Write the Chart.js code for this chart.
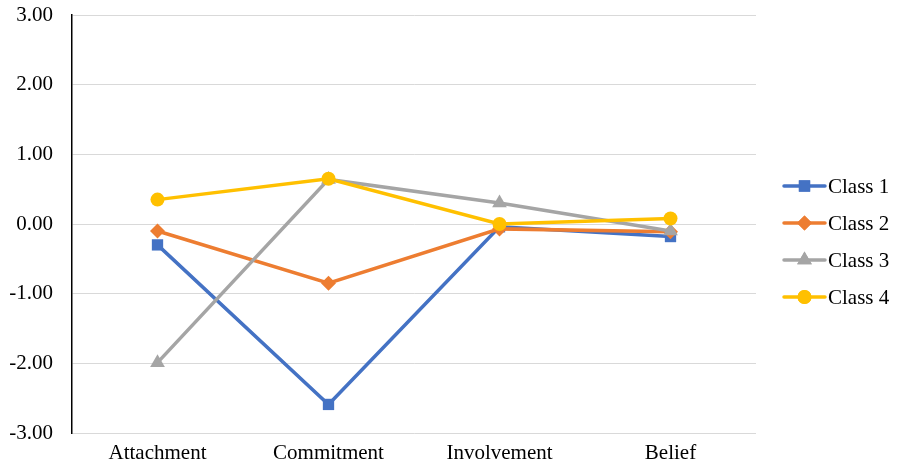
<!DOCTYPE html>
<html>
<head>
<meta charset="utf-8">
<script src="https://cdn.jsdelivr.net/npm/chart.js@4"></script>
<style>
  html, body { margin: 0; padding: 0; background: #fff; }
  #wrap { width: 897px; height: 466px; }
</style>
</head>
<body>
<div id="wrap"><canvas id="c" width="897" height="466"></canvas></div>
<script>
const categories = ['Attachment', 'Commitment', 'Involvement', 'Belief'];
const seriesNames = ['Class 1', 'Class 2', 'Class 3', 'Class 4'];
const class1 = [-0.30, -2.59, -0.04, -0.18];
const class2 = [-0.10, -0.85, -0.07, -0.11];
const class3 = [-1.99, 0.64, 0.30, -0.10];
const class4 = [0.35, 0.65, 0.00, 0.08];
const yTicks = [-3, -2, -1, 0, 1, 2, 3];

const colors = ['#4472C4', '#ED7D31', '#A5A5A5', '#FFC000'];
const markers = ['rect', 'rectRot', 'triangle', 'circle'];
const radii = [8, 7.5, 8.5, 7];
const FONT = "'Liberation Serif', 'Times New Roman', serif";

const values = [class1, class2, class3, class4];
const datasets = values.map((v, i) => ({
  label: seriesNames[i],
  data: v,
  borderColor: colors[i],
  backgroundColor: colors[i],
  borderWidth: 3.5,
  pointStyle: markers[i],
  pointRadius: radii[i],
  pointBorderWidth: 0,
  pointHoverRadius: radii[i],
  order: 3 - i,
  tension: 0
}));

// Legend on the right: short line segment with the series marker, then the name
const sideLegend = {
  id: 'sideLegend',
  afterDraw(chart) {
    const ctx = chart.ctx;
    const x0 = 784, x1 = 825, tx = 828;
    const startY = 186, step = 37;
    ctx.save();
    ctx.font = '21px ' + FONT;
    ctx.textBaseline = 'middle';
    ctx.textAlign = 'left';
    chart.data.datasets.forEach((ds, i) => {
      const y = startY + i * step;
      ctx.strokeStyle = ds.borderColor;
      ctx.lineWidth = 3.5;
      ctx.lineCap = 'round';
      ctx.beginPath();
      ctx.moveTo(x0, y);
      ctx.lineTo(x1, y);
      ctx.stroke();
      ctx.fillStyle = ds.backgroundColor;
      Chart.helpers.drawPoint(ctx, {
        pointStyle: ds.pointStyle,
        radius: ds.pointRadius,
        borderWidth: 0
      }, (x0 + x1) / 2, y);
      ctx.fill();
      ctx.fillStyle = '#000';
      ctx.fillText(ds.label, tx, y + 1);
    });
    ctx.restore();
  }
};

new Chart(document.getElementById('c'), {
  type: 'line',
  data: { labels: categories, datasets },
  options: {
    responsive: false,
    animation: false,
    layout: { padding: { top: 15, right: 141, left: 0, bottom: 0 } },
    plugins: {
      legend: { display: false },
      title: { display: false },
      tooltip: { enabled: false }
    },
    scales: {
      x: {
        offset: true,
        grid: { display: false, drawTicks: false },
        border: { display: false },
        ticks: {
          color: '#000',
          font: { family: FONT, size: 21 },
          padding: 8,
          maxRotation: 0
        },
        afterFit(scale) {
          scale.height = 33;
          scale.paddingLeft = 0;
          scale.paddingRight = 0;
        }
      },
      y: {
        min: -3,
        max: 3,
        afterBuildTicks(scale) { scale.ticks = yTicks.map(v => ({ value: v })); },
        grid: { color: '#d9d9d9', lineWidth: 1, drawTicks: false },
        border: { display: true, color: '#000', width: 1.5 },
        ticks: {
          color: '#000',
          font: { family: FONT, size: 21 },
          padding: 19,
          callback: v => Number(v).toFixed(2)
        },
        afterFit(scale) {
          scale.width = 72;
          scale.paddingTop = 0;
          scale.paddingBottom = 0;
        }
      }
    }
  },
  plugins: [sideLegend]
});
</script>
</body>
</html>
